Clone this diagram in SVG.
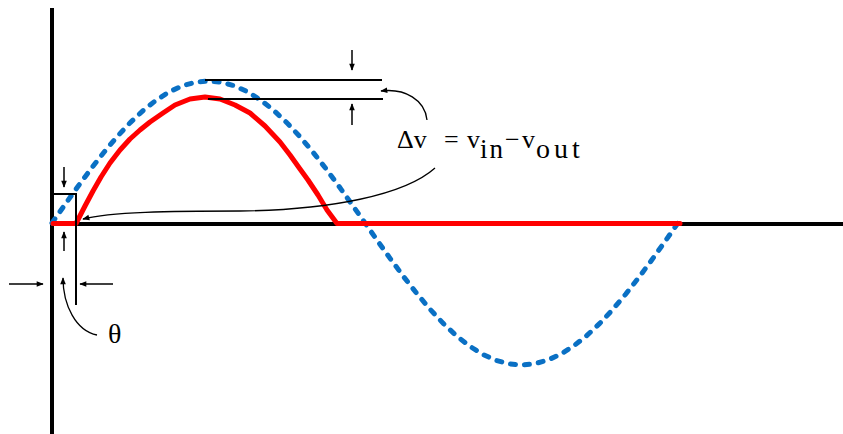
<svg xmlns="http://www.w3.org/2000/svg" width="843" height="434" viewBox="0 0 843 434">
  <style>
    .axis { stroke: #000; stroke-width: 4; fill: none; }
    .vin { stroke: #0A70C4; stroke-width: 5; fill: none; stroke-dasharray: 5 9; stroke-linecap: round; stroke-linejoin: round; }
    .vout { stroke: #FF0000; stroke-width: 5; fill: none; stroke-linejoin: round; stroke-linecap: round; }
    .guide { stroke: #000; stroke-width: 2; fill: none; }
    .arrow { stroke: #000; stroke-width: 1.5; fill: none; marker-end: url(#ah); }
    .conn { stroke: #000; stroke-width: 1.3; fill: none; marker-end: url(#ah); }
    .t { font-family: "Liberation Serif", "Times New Roman", serif; font-size: 26px; fill: #000; }
    .sub { font-size: 27px; letter-spacing: 2px; }
    .sub2 { font-size: 28px; letter-spacing: 4px; }
  </style>
  <defs>
    <marker id="ah" viewBox="0 0 10 10" refX="9" refY="5" markerWidth="9" markerHeight="7" markerUnits="userSpaceOnUse" orient="auto">
      <path d="M0,1 L10,5 L0,9 Z" fill="#000"/>
    </marker>
  </defs>

  <g id="axes">
    <line class="axis" x1="52" y1="8" x2="52" y2="434"/>
    <line class="axis" x1="50" y1="224" x2="843" y2="224"/>
  </g>

  <g id="input-wave">
    <path class="vin" d="M52,223 L65.04,204.47 L78.08,186.25 L91.13,168.66 L104.17,152 L117.21,136.55 L130.25,122.59 L143.29,110.34 L156.33,100.02 L169.38,91.81 L182.42,85.84 L195.46,82.22 L208.5,81 L221.54,82.22 L234.58,85.84 L247.63,91.81 L260.67,100.02 L273.71,110.34 L286.75,122.59 L299.79,136.55 L312.83,152 L325.88,168.66 L338.92,186.25 L351.96,204.47 L365,223 L378.04,241.53 L391.08,259.75 L404.13,277.34 L417.17,294 L430.21,309.45 L443.25,323.41 L456.29,335.66 L469.33,345.98 L482.38,354.19 L495.42,360.16 L508.46,363.78 L521.5,365 L534.54,363.78 L547.58,360.16 L560.63,354.19 L573.67,345.98 L586.71,335.66 L599.75,323.41 L612.79,309.45 L625.83,294 L638.88,277.34 L651.92,259.75 L664.96,241.53 L678,223"/>
  </g>

  <g id="output-wave">
    <path class="vout" d="M53,223.5 L76,223.5 L85,206 L93,191 L101,177 L110,163 L120,150 L130,139 L140,130 L150,122 L163,113 L175,105 L190,99 L205,97 L220,99 L235,105 L250,113 L265,126 L280,142 L290,155 L300,169 L308,180 L318,195 L327,210 L337,223.5 L680,223.5"/>
  </g>

  <g id="theta-marker">
    <polyline class="guide" points="52,194 76,194 76,305"/>
    <line class="arrow" x1="64" y1="167" x2="64" y2="187"/>
    <line class="arrow" x1="64" y1="251" x2="64" y2="232"/>
    <line class="arrow" x1="9" y1="284" x2="43" y2="284"/>
    <line class="arrow" x1="113" y1="284" x2="80" y2="284"/>
  </g>

  <g id="dv-marker">
    <line class="guide" x1="205" y1="80" x2="382" y2="80"/>
    <line class="guide" x1="208" y1="99" x2="383" y2="99"/>
    <line class="arrow" x1="352" y1="50" x2="352" y2="70"/>
    <line class="arrow" x1="352" y1="125" x2="352" y2="104"/>
  </g>

  <g id="labels">
    <text class="t" x="108" y="343" style="font-size:28px">θ</text>
    <text class="t" x="397" y="148">Δv</text>
    <text class="t" x="444" y="148">=</text>
    <text class="t" x="467" y="148">v</text>
    <text class="t sub" x="480" y="158">in</text>
    <text class="t" x="505" y="148">−</text>
    <text class="t" x="522" y="148">v</text>
    <text class="t sub2" x="536" y="158">out</text>
  </g>

  <g id="connectors">
    <path class="conn" d="M97,335 C76,331 63,305 63,278"/>
    <path class="conn" d="M427,120 C425,100 405,88 381,91"/>
    <path class="conn" d="M435,168 C405,195 330,210 240,211 C170,211 110,212 83,219"/>
  </g>
</svg>
